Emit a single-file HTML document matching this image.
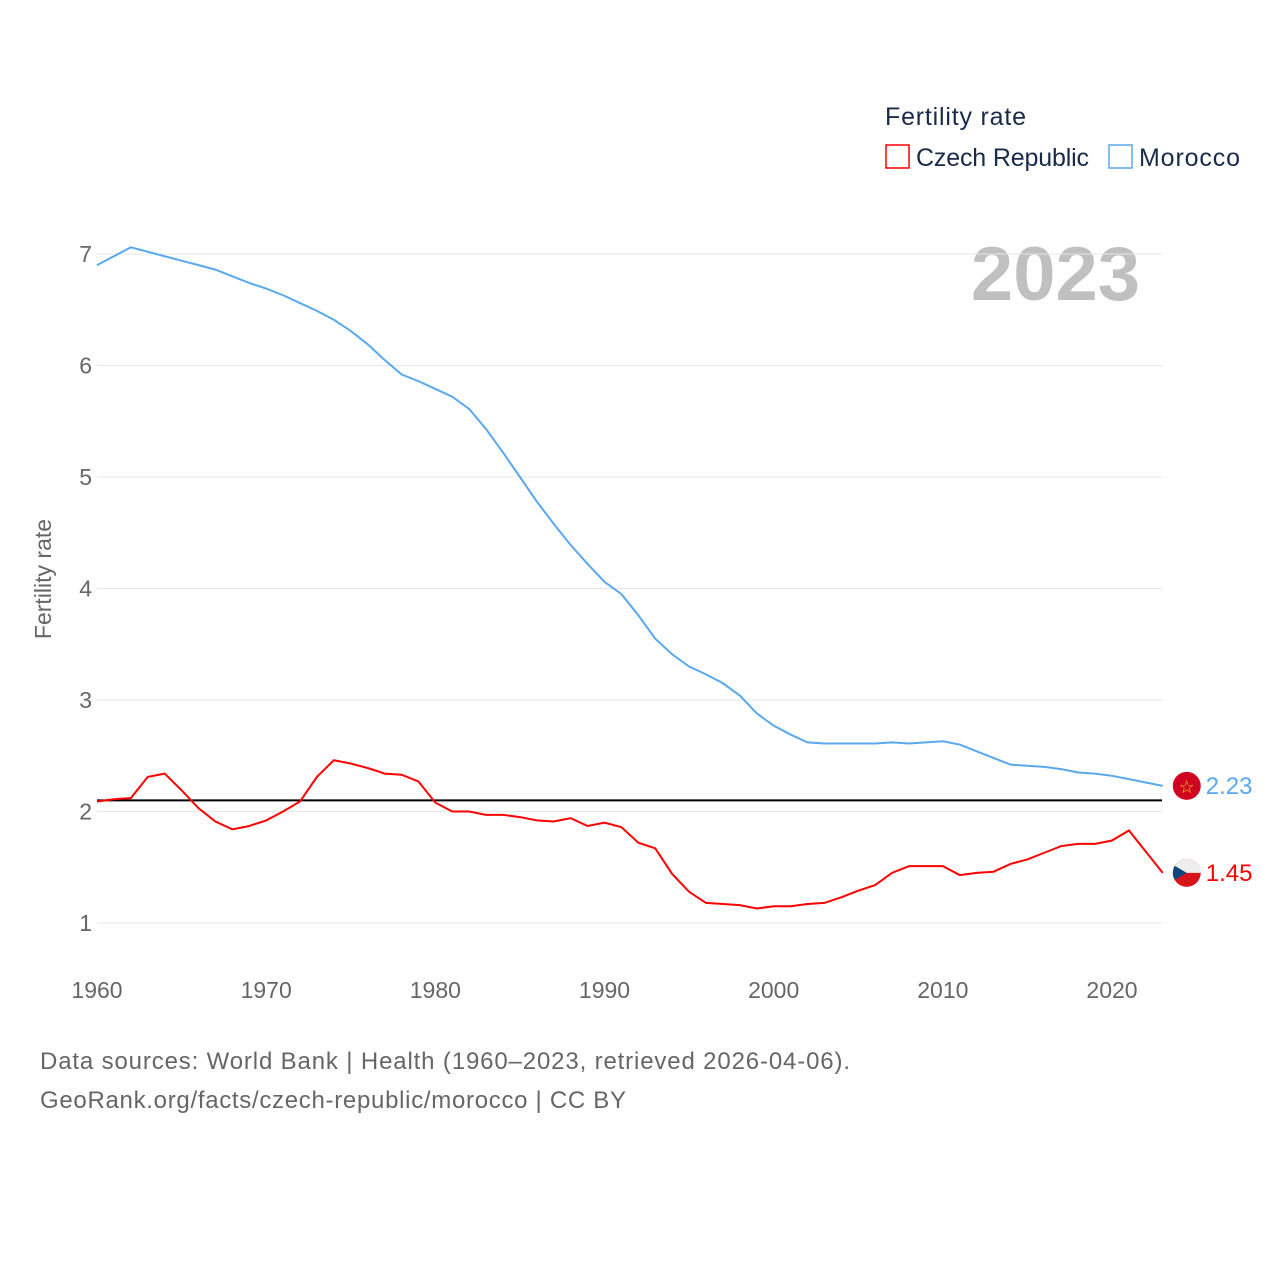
<!DOCTYPE html>
<html><head><meta charset="utf-8"><style>
body{margin:0;background:#fff;font-family:"Liberation Sans",sans-serif}
svg text{font-family:"Liberation Sans",sans-serif}
</style></head><body>
<svg id="chart" width="1280" height="1280">
<text x="885" y="125" font-size="25" fill="#1a2a4a" textLength="141">Fertility rate</text>
<g><rect x="886" y="145" width="23" height="23" fill="none" stroke="#ff0000" stroke-width="1.5"/><text x="916" y="166" font-size="25" fill="#1a2a4a" textLength="173">Czech Republic</text></g>
<g><rect x="1109" y="145" width="23" height="23" fill="none" stroke="#5aa8ee" stroke-width="1.5"/><text x="1139" y="166" font-size="25" fill="#1a2a4a" textLength="101">Morocco</text></g>
<text x="1140" y="300" font-size="76" font-weight="bold" fill="#c0c0c0" text-anchor="end">2023</text>
<text transform="translate(51,579) rotate(-90)" font-size="23" fill="#666" text-anchor="middle">Fertility rate</text>
<g id="grid"></g><g id="lines"></g>
<text x="40" y="1069" font-size="24" fill="#666" textLength="810">Data sources: World Bank | Health (1960–2023, retrieved 2026-04-06).</text>
<text x="40" y="1108" font-size="24" fill="#666" textLength="586">GeoRank.org/facts/czech-republic/morocco | CC BY</text>
</svg>
<script>
const years=[];for(let y=1960;y<=2023;y++)years.push(y);
const czech=[2.09,2.11,2.12,2.31,2.34,2.19,2.03,1.91,1.84,1.87,1.92,2.0,2.09,2.31,2.46,2.43,2.39,2.34,2.33,2.27,2.08,2.0,2.0,1.97,1.97,1.95,1.92,1.91,1.94,1.87,1.9,1.86,1.72,1.67,1.44,1.28,1.18,1.17,1.16,1.13,1.15,1.15,1.17,1.18,1.23,1.29,1.34,1.45,1.51,1.51,1.51,1.43,1.45,1.46,1.53,1.57,1.63,1.69,1.71,1.71,1.74,1.83,1.64,1.45];
const morocco=[6.9,6.98,7.06,7.02,6.98,6.94,6.9,6.86,6.8,6.74,6.69,6.63,6.56,6.49,6.41,6.31,6.19,6.05,5.92,5.86,5.79,5.72,5.61,5.43,5.22,5.0,4.78,4.58,4.39,4.22,4.06,3.95,3.76,3.55,3.41,3.3,3.23,3.15,3.04,2.88,2.77,2.69,2.62,2.61,2.61,2.61,2.61,2.62,2.61,2.62,2.63,2.6,2.54,2.48,2.42,2.41,2.4,2.38,2.35,2.34,2.32,2.29,2.26,2.23];
const yTicks=[1,2,3,4,5,6,7];
const xTicks=[1960,1970,1980,1990,2000,2010,2020];
const replacement=2.1;
const NS="http://www.w3.org/2000/svg";
const X=y=>97+(y-1960)*(1015/60);
const Y=v=>923-(v-1)*111.5;
const grid=document.getElementById('grid'),lines=document.getElementById('lines');
function mk(t,a,p){const e=document.createElementNS(NS,t);for(const k in a)e.setAttribute(k,a[k]);p.appendChild(e);return e;}
yTicks.forEach(v=>{
 const l=mk('line',{x1:97,x2:1162,y1:Y(v),y2:Y(v),stroke:'#e6e6e6','stroke-width':1},grid);
 
 
 const t=mk('text',{x:92,y:Y(v)+8,'font-size':23,fill:'#666','text-anchor':'end'},grid);t.textContent=v;
 
 
});
xTicks.forEach(v=>{
 const t=mk('text',{x:X(v),y:998,'font-size':23,fill:'#666','text-anchor':'middle'},grid);t.textContent=v;
 
 
});
const rl=mk('line',{x1:97,x2:1162,y1:Y(replacement),y2:Y(replacement),stroke:'#000','stroke-width':2},lines);


function series(d,c,name,label){
 const p=mk('polyline',{points:d.map((v,i)=>X(years[i])+','+Y(v)).join(' '),fill:'none',stroke:c,'stroke-width':2},lines);
 
 
 const lx=X(years[years.length-1]),ly=Y(d[d.length-1]);
 const ci=mk('circle',{cx:lx+24,cy:ly,r:14,fill:name==='morocco'?'#d00020':'#d7141a'},lines);
 
 
 if(name==='czech'){
  mk('path',{d:`M${lx+10},${ly} a14,14 0 0 1 28,0 z`,fill:'#eee'},lines);
  mk('path',{d:`M${lx+12},${ly-7} L${lx+24},${ly} L${lx+12},${ly+7} A14,14 0 0 1 ${lx+12},${ly-7}z`,fill:'#11457e'},lines);
 } else {
  const s=mk('text',{x:lx+24,y:ly+7,'font-size':18,fill:'#f5d000','text-anchor':'middle'},lines);s.textContent='☆';
 }
 const t=mk('text',{x:lx+43,y:ly+8,'font-size':24,fill:c},lines);t.textContent=label;
 
 
}
series(morocco,'#5aa8ee','morocco',morocco[morocco.length-1].toFixed(2));
series(czech,'#ff0000','czech',czech[czech.length-1].toFixed(2));
</script>
</body></html>
